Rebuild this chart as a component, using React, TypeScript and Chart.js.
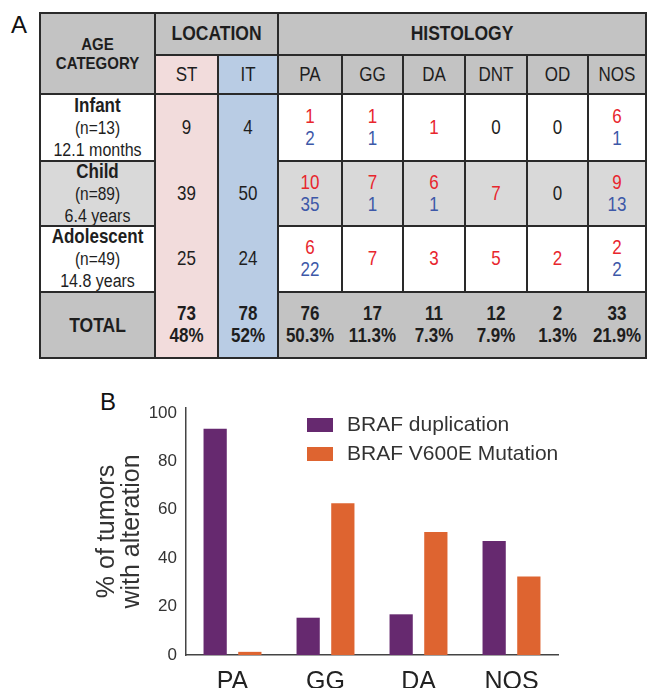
import React, { useEffect, useRef } from "react";
import { Chart, registerables } from "chart.js";

Chart.register(...registerables);

// ---------- Panel A data ----------
const ageCategories = ["Infant", "Child", "Adolescent"];
const ageCounts = ["(n=13)", "(n=89)", "(n=49)"];
const ageMedians = ["12.1 months", "6.4 years", "14.8 years"];
const locations = ["ST", "IT"];
const stCounts = [9, 39, 25];
const itCounts = [4, 50, 24];
const locationTotals = [73, 78];
const locationPercents = ["48%", "52%"];
const histologies = ["PA", "GG", "DA", "DNT", "OD", "NOS"];
const stHistology = [
  [1, 1, 1, 0, 0, 6],
  [10, 7, 6, 7, 0, 9],
  [6, 7, 3, 5, 2, 2],
];
const itHistology = [
  [2, 1, 0, 0, 0, 1],
  [35, 1, 1, 0, 0, 13],
  [22, 0, 0, 0, 0, 2],
];
const histologyTotals = [76, 17, 11, 12, 2, 33];
const histologyPercents = ["50.3%", "11.3%", "7.3%", "7.9%", "1.3%", "21.9%"];

// ---------- Panel B data ----------
const barCategories = ["PA", "GG", "DA", "NOS"];
const seriesNames = ["BRAF duplication", "BRAF V600E Mutation"];
const duplicationPct = [93.4, 15.4, 16.8, 47.1];
const v600ePct = [1.3, 62.7, 50.8, 32.4];
const yAxisTitle = ["% of tumors", "with alteration"];

// ---------- layout / style ----------
const FONT = '"Liberation Sans", Arial, Helvetica, sans-serif';
const colX = [40, 155, 218, 278, 342, 403, 465, 527, 588, 646];
const rowY = [13, 55, 94, 161, 226, 292, 358];
const GRAY_HEAD = "#c3c3c3";
const GRAY_ROW = "#d9d9d9";
const GRAY_TOTAL = "#c3c3c3";
const PINK = "#f2dcdc";
const BLUE = "#b9cce4";
const RED = "#e8262d";
const BLUEText = "#3d58a8";
const LINE = "#2a2a2a";
const PURPLE = "#66296f";
const ORANGE = "#de6430";

const Box = ({ x1, x2, y1, y2, bg, children }: any) => (
  <div
    style={{
      position: "absolute",
      left: x1,
      top: y1,
      width: x2 - x1,
      height: y2 - y1,
      background: bg,
      display: "flex",
      flexDirection: "column",
      alignItems: "center",
      justifyContent: "center",
      textAlign: "center",
      color: "#1e1e1e",
      fontFamily: FONT,
      fontSize: 17,
      lineHeight: "22px",
    }}
  >
    {children}
  </div>
);

const T = ({ style, children }: any) => (
  <div style={{ transform: "scaleY(1.15)", whiteSpace: "nowrap", ...style }}>{children}</div>
);

const HLine = ({ x1, x2, y }: any) => (
  <div style={{ position: "absolute", left: x1 - 1, top: y - 1, width: x2 - x1 + 2, height: 2, background: LINE }} />
);
const VLine = ({ x, y1, y2 }: any) => (
  <div style={{ position: "absolute", left: x - 1, top: y1 - 1, width: 2, height: y2 - y1 + 2, background: LINE }} />
);

function HistCell({ st, it }: { st: number; it: number }) {
  if (st === 0 && it === 0) return <T>0</T>;
  return (
    <>
      {st > 0 && <T style={{ color: RED }}>{st}</T>}
      {it > 0 && <T style={{ color: BLUEText }}>{it}</T>}
    </>
  );
}

function TableA() {
  const cells: any[] = [];
  cells.push(
    <Box key="age" x1={colX[0]} x2={colX[1]} y1={rowY[0]} y2={rowY[2]} bg={GRAY_HEAD}>
      <T style={{ fontWeight: "bold", fontSize: 15, lineHeight: "19px", marginTop: -2 }}>AGE</T>
      <T style={{ fontWeight: "bold", fontSize: 15, lineHeight: "19px" }}>CATEGORY</T>
    </Box>
  );
  cells.push(
    <Box key="loc" x1={colX[1]} x2={colX[3]} y1={rowY[0]} y2={rowY[1]} bg={GRAY_HEAD}>
      <T style={{ fontWeight: "bold", fontSize: 17.5, marginTop: -2 }}>LOCATION</T>
    </Box>
  );
  cells.push(
    <Box key="hist" x1={colX[3]} x2={colX[9]} y1={rowY[0]} y2={rowY[1]} bg={GRAY_HEAD}>
      <T style={{ fontWeight: "bold", fontSize: 17.5, marginTop: -2 }}>HISTOLOGY</T>
    </Box>
  );
  cells.push(<Box key="stbg" x1={colX[1]} x2={colX[2]} y1={rowY[1]} y2={rowY[6]} bg={PINK} />);
  cells.push(<Box key="itbg" x1={colX[2]} x2={colX[3]} y1={rowY[1]} y2={rowY[6]} bg={BLUE} />);
  locations.forEach((l, i) =>
    cells.push(
      <Box key={"lh" + i} x1={colX[1 + i]} x2={colX[2 + i]} y1={rowY[1]} y2={rowY[2]}>
        <T>{l}</T>
      </Box>
    )
  );
  histologies.forEach((h, i) =>
    cells.push(
      <Box key={"hh" + i} x1={colX[3 + i]} x2={colX[4 + i]} y1={rowY[1]} y2={rowY[2]} bg={GRAY_HEAD}>
        <T>{h}</T>
      </Box>
    )
  );
  ageCategories.forEach((a, r) => {
    const bg = r === 1 ? GRAY_ROW : "#ffffff";
    const y1 = rowY[2 + r];
    const y2 = rowY[3 + r];
    cells.push(
      <Box key={"a" + r} x1={colX[0]} x2={colX[1]} y1={y1} y2={y2} bg={bg}>
        <T style={{ fontWeight: "bold", fontSize: 17 }}>{a}</T>
        <T style={{ fontSize: 15.5 }}>{ageCounts[r]}</T>
        <T style={{ fontSize: 16 }}>{ageMedians[r]}</T>
      </Box>
    );
    cells.push(
      <Box key={"st" + r} x1={colX[1]} x2={colX[2]} y1={y1} y2={y2}>
        <T>{stCounts[r]}</T>
      </Box>
    );
    cells.push(
      <Box key={"it" + r} x1={colX[2]} x2={colX[3]} y1={y1} y2={y2}>
        <T>{itCounts[r]}</T>
      </Box>
    );
    histologies.forEach((h, c) =>
      cells.push(
        <Box key={"h" + r + c} x1={colX[3 + c]} x2={colX[4 + c]} y1={y1} y2={y2} bg={bg}>
          <HistCell st={stHistology[r][c]} it={itHistology[r][c]} />
        </Box>
      )
    );
  });
  const ty1 = rowY[5];
  const ty2 = rowY[6];
  cells.push(
    <Box key="tot" x1={colX[0]} x2={colX[1]} y1={ty1} y2={ty2} bg={GRAY_TOTAL}>
      <T style={{ fontWeight: "bold", fontSize: 17.5 }}>TOTAL</T>
    </Box>
  );
  cells.push(<Box key="totbg" x1={colX[3]} x2={colX[9]} y1={ty1} y2={ty2} bg={GRAY_TOTAL} />);
  locations.forEach((l, i) =>
    cells.push(
      <Box key={"lt" + i} x1={colX[1 + i]} x2={colX[2 + i]} y1={ty1} y2={ty2}>
        <T style={{ fontWeight: "bold" }}>{locationTotals[i]}</T>
        <T style={{ fontWeight: "bold" }}>{locationPercents[i]}</T>
      </Box>
    )
  );
  histologies.forEach((h, i) =>
    cells.push(
      <Box key={"ht" + i} x1={colX[3 + i]} x2={colX[4 + i]} y1={ty1} y2={ty2}>
        <T style={{ fontWeight: "bold" }}>{histologyTotals[i]}</T>
        <T style={{ fontWeight: "bold" }}>{histologyPercents[i]}</T>
      </Box>
    )
  );

  const L = colX[0];
  const R = colX[9];
  const lines: any[] = [];
  lines.push(<HLine key="t" x1={L} x2={R} y={rowY[0]} />);
  lines.push(<HLine key="b" x1={L} x2={R} y={rowY[6]} />);
  lines.push(<VLine key="l" x={L} y1={rowY[0]} y2={rowY[6]} />);
  lines.push(<VLine key="r" x={R} y1={rowY[0]} y2={rowY[6]} />);
  lines.push(<HLine key="h1" x1={colX[1]} x2={R} y={rowY[1]} />);
  lines.push(<HLine key="h2" x1={L} x2={R} y={rowY[2]} />);
  [3, 4, 5].forEach((k) => {
    lines.push(<HLine key={"ha" + k} x1={L} x2={colX[1]} y={rowY[k]} />);
    lines.push(<HLine key={"hb" + k} x1={colX[3]} x2={R} y={rowY[k]} />);
  });
  lines.push(<VLine key="v1" x={colX[1]} y1={rowY[0]} y2={rowY[6]} />);
  lines.push(<VLine key="v2" x={colX[2]} y1={rowY[1]} y2={rowY[6]} />);
  lines.push(<VLine key="v3" x={colX[3]} y1={rowY[0]} y2={rowY[6]} />);
  [4, 5, 6, 7, 8].forEach((k) => lines.push(<VLine key={"vh" + k} x={colX[k]} y1={rowY[1]} y2={rowY[5]} />));

  return (
    <>
      {cells}
      {lines}
    </>
  );
}

const insideLegend = {
  id: "insideLegend",
  afterDraw(chart: any) {
    const ctx = chart.ctx;
    ctx.save();
    chart.data.datasets.forEach((ds: any, i: number) => {
      const top = 48 + i * 29;
      ctx.fillStyle = ds.backgroundColor;
      ctx.fillRect(307, top, 26, 14);
      ctx.fillStyle = "#333333";
      ctx.font = `21px ${FONT}`;
      ctx.textBaseline = "middle";
      ctx.textAlign = "left";
      ctx.fillText(ds.label, 347, top + 7.5);
    });
    ctx.restore();
  },
};

function ChartB() {
  const ref = useRef<HTMLCanvasElement | null>(null);
  useEffect(() => {
    if (!ref.current) return;
    const chart = new Chart(ref.current, {
      type: "bar",
      data: {
        labels: barCategories,
        datasets: [
          { label: seriesNames[0], data: duplicationPct, backgroundColor: PURPLE, barPercentage: 0.67, categoryPercentage: 0.746 },
          { label: seriesNames[1], data: v600ePct, backgroundColor: ORANGE, barPercentage: 0.67, categoryPercentage: 0.746 },
        ],
      },
      options: {
        responsive: false,
        animation: false,
        layout: { padding: { top: 38, right: 89, left: 0, bottom: 0 } },
        plugins: { legend: { display: false }, tooltip: { enabled: false } },
        scales: {
          x: {
            grid: { display: false, drawTicks: false },
            border: { display: true, color: "#444444", width: 1.5 },
            ticks: { font: { size: 25, family: FONT }, color: "#222222", padding: 12 },
            afterFit: (s: any) => {
              s.height = 33;
            },
          },
          y: {
            min: 0,
            max: 102,
            grid: { display: false, drawTicks: false },
            border: { display: true, color: "#444444", width: 1.5 },
            ticks: { stepSize: 20, includeBounds: false, font: { size: 17, family: FONT }, color: "#333333", padding: 9 },
            title: {
              display: true,
              text: yAxisTitle,
              color: "#333333",
              font: { size: 25, family: FONT, lineHeight: 1.0 },
              padding: { top: 95, bottom: 0 },
            },
            afterFit: (s: any) => {
              s.width = 186;
            },
          },
        },
      } as any,
      plugins: [insideLegend],
    });
    return () => chart.destroy();
  }, []);
  return (
    <canvas
      ref={ref}
      width={647}
      height={318}
      style={{ position: "absolute", left: 0, top: 370, width: 647, height: 318 }}
    />
  );
}

export default function App() {
  return (
    <div
      style={{
        position: "absolute",
        left: 0,
        top: 0,
        width: 647,
        height: 688,
        background: "#ffffff",
        overflow: "hidden",
        fontFamily: FONT,
      }}
    >
      <div style={{ position: "absolute", left: 11, top: 11, fontSize: 24, lineHeight: "28px", color: "#111", fontFamily: FONT }}>A</div>
      <TableA />
      <div style={{ position: "absolute", left: 100, top: 388, fontSize: 24, lineHeight: "28px", color: "#111", fontFamily: FONT }}>B</div>
      <ChartB />
    </div>
  );
}
